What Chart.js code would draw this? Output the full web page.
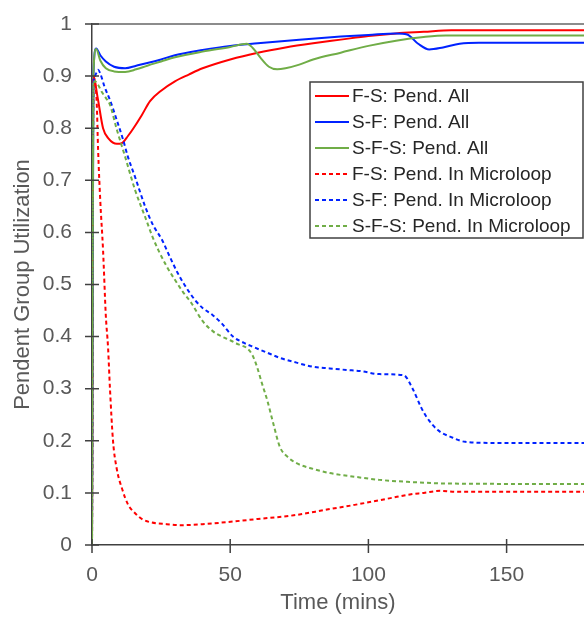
<!DOCTYPE html>
<html>
<head>
<meta charset="utf-8">
<script src="https://cdn.jsdelivr.net/npm/chart.js@4/dist/chart.umd.min.js"></script>
<style>
  body { margin: 0; background: #fff; }
  canvas { display: block; }
</style>
</head>
<body>
<canvas id="lineChart" width="584" height="617"></canvas>
<script>
// time (mins), utilization pairs
const fsAll = [[0,0],[0.5,0.9],[2,0.86],[4,0.8],[6,0.78],[9,0.77],[11,0.772],[13,0.785],[15,0.8],[18,0.825],[21,0.852],[25,0.872],[30,0.89],[35,0.903],[40,0.915],[50,0.932],[60,0.945],[70,0.955],[80,0.963],[90,0.97],[100,0.977],[110,0.982],[120,0.985],[130,0.988],[178,0.988]];
const sfAll = [[0,0],[0.5,0.9],[1.5,0.953],[3,0.94],[5,0.928],[8,0.918],[12,0.915],[16,0.92],[20,0.925],[25,0.932],[30,0.94],[40,0.95],[50,0.958],[60,0.963],[75,0.97],[90,0.976],[100,0.979],[110,0.982],[114,0.98],[118,0.962],[122,0.951],[127,0.955],[133,0.962],[140,0.964],[178,0.964]];
const sfsAll = [[0,0],[0.5,0.9],[1.5,0.952],[3,0.93],[5,0.915],[8,0.909],[12,0.908],[16,0.913],[20,0.92],[25,0.928],[30,0.936],[40,0.947],[50,0.956],[56,0.962],[58,0.955],[61,0.935],[64,0.918],[67,0.913],[70,0.915],[75,0.922],[80,0.932],[90,0.945],[100,0.958],[110,0.968],[120,0.975],[128,0.978],[178,0.978]];
const fsLoop = [[0,0],[0.5,0.9],[1,0.89],[1.7,0.85],[2.2,0.76],[3,0.66],[4,0.566],[5,0.44],[5.8,0.38],[6.5,0.3],[7.6,0.2],[9,0.145],[11,0.106],[13,0.078],[15.6,0.061],[18,0.05],[21.7,0.043],[27,0.04],[32,0.038],[40,0.04],[49,0.044],[60,0.05],[73,0.057],[85,0.068],[95,0.077],[108,0.09],[115,0.097],[120,0.1],[126,0.104],[132,0.102],[178,0.102]];
const sfLoop = [[0,0],[0.5,0.88],[1,0.9],[2.2,0.912],[3,0.905],[4.5,0.88],[6.5,0.854],[9,0.815],[11.3,0.777],[13,0.745],[15.6,0.706],[19.2,0.65],[22,0.615],[25.4,0.585],[28,0.555],[31,0.522],[34,0.495],[37.3,0.47],[40,0.455],[43.5,0.442],[47,0.425],[51,0.4],[55,0.388],[58.4,0.38],[63,0.37],[68,0.359],[74,0.35],[80,0.342],[86,0.339],[92,0.336],[97,0.334],[104,0.328],[112.7,0.326],[116,0.3],[119,0.265],[121,0.246],[125,0.221],[130,0.207],[135,0.198],[145,0.196],[178,0.196]];
const sfsLoop = [[0,0],[0.5,0.88],[1,0.89],[2,0.885],[3.5,0.87],[5.4,0.855],[6.5,0.845],[9,0.797],[12,0.745],[15.6,0.681],[19.2,0.63],[22,0.59],[24,0.566],[27,0.535],[30,0.509],[33,0.485],[36,0.464],[40,0.43],[43.8,0.41],[47,0.4],[50,0.393],[53,0.385],[56,0.378],[58,0.365],[59.7,0.342],[61.5,0.31],[63.4,0.278],[65.5,0.235],[68,0.188],[71,0.168],[74,0.157],[80,0.146],[86,0.138],[95,0.131],[104,0.125],[115,0.121],[128.6,0.118],[178,0.117]];

const seriesLabels = ['F-S: Pend. All', 'S-F: Pend. All', 'S-F-S: Pend. All',
  'F-S: Pend. In Microloop', 'S-F: Pend. In Microloop', 'S-F-S: Pend. In Microloop'];
const seriesData = [fsAll, sfAll, sfsAll, fsLoop, sfLoop, sfsLoop];
const seriesColors = ['#ff0000', '#0022ff', '#70ad47', '#ff0000', '#0022ff', '#70ad47'];
const xTicks = [0, 50, 100, 150];

const axisGray = '#404040';
const textGray = '#595959';
const fontFamily = '"Liberation Sans", Arial, sans-serif';

const datasets = seriesData.map((pts, i) => ({
    label: seriesLabels[i],
    data: pts.map(p => ({ x: p[0], y: p[1] })),
    borderColor: seriesColors[i],
    borderWidth: 2,
    borderDash: i >= 3 ? [4, 3] : [],
    pointRadius: 0,
    cubicInterpolationMode: 'monotone',
    fill: false,
    order: 5 - i
}));

// tick marks that cross the axis lines, like the original
const crossTicks = {
    id: 'crossTicks',
    afterDraw(chart) {
        const ctx = chart.ctx;
        const x = chart.scales.x, y = chart.scales.y;
        ctx.save();
        ctx.strokeStyle = axisGray;
        ctx.lineWidth = 1.5;
        ctx.beginPath();
        y.ticks.forEach(t => {
            const py = y.getPixelForValue(t.value);
            ctx.moveTo(x.left - 7, py);
            ctx.lineTo(x.left + 7, py);
        });
        x.ticks.forEach(t => {
            const px = x.getPixelForValue(t.value);
            ctx.moveTo(px, y.bottom - 6);
            ctx.lineTo(px, y.bottom + 8);
        });
        ctx.stroke();
        ctx.restore();
    }
};

// boxed legend inside the plot, upper right
const boxLegend = {
    id: 'boxLegend',
    afterDraw(chart) {
        const ctx = chart.ctx;
        const left = 310, top = 82, right = 583, bottom = 238;
        ctx.save();
        ctx.fillStyle = '#fff';
        ctx.fillRect(left, top, right - left, bottom - top);
        ctx.strokeStyle = axisGray;
        ctx.lineWidth = 1.5;
        ctx.strokeRect(left, top, right - left, bottom - top);
        ctx.font = '19px ' + fontFamily;
        ctx.textBaseline = 'middle';
        chart.data.datasets.forEach((ds, i) => {
            const cy = 96 + i * 26;
            ctx.strokeStyle = ds.borderColor;
            ctx.lineWidth = 2;
            ctx.setLineDash(ds.borderDash);
            ctx.beginPath();
            ctx.moveTo(315, cy);
            ctx.lineTo(349, cy);
            ctx.stroke();
            ctx.setLineDash([]);
            ctx.fillStyle = '#262626';
            ctx.fillText(ds.label, 352, cy + 1);
        });
        ctx.restore();
    }
};

const ctx = document.getElementById('lineChart').getContext('2d');
new Chart(ctx, {
    type: 'line',
    data: { datasets: datasets },
    options: {
        responsive: false,
        animation: false,
        layout: { padding: { top: 24, right: 0, bottom: 0, left: 0 } },
        plugins: {
            legend: { display: false },
            tooltip: { enabled: false }
        },
        scales: {
            x: {
                type: 'linear',
                min: 0,
                max: 178,
                afterBuildTicks: s => { s.ticks = xTicks.map(v => ({ value: v })); },
                afterFit: s => { s.height = 72; },
                ticks: { color: textGray, font: { size: 21, family: fontFamily }, padding: 18, maxRotation: 0 },
                grid: { drawOnChartArea: false, drawTicks: false },
                border: { color: axisGray, width: 1.5 },
                title: { display: true, text: 'Time (mins)', color: textGray, font: { size: 22, family: fontFamily }, padding: { top: 0, bottom: 1 } }
            },
            y: {
                min: 0,
                max: 1,
                afterFit: s => { s.width = 92; },
                ticks: {
                    stepSize: 0.1,
                    color: textGray,
                    font: { size: 21, family: fontFamily },
                    padding: 4,
                    callback: v => String(+v.toFixed(1))
                },
                grid: {
                    drawTicks: true,
                    tickLength: 16,
                    tickColor: 'rgba(0,0,0,0)',
                    lineWidth: 2,
                    color: c => (c.tick && c.tick.value === 1) ? '#8c8c8c' : 'rgba(0,0,0,0)'
                },
                border: { color: axisGray, width: 1.5 },
                title: { display: true, text: 'Pendent Group Utilization', color: textGray, font: { size: 22, family: fontFamily }, padding: { top: 10, bottom: 0 } }
            }
        }
    },
    plugins: [crossTicks, boxLegend]
});
</script>
</body>
</html>
